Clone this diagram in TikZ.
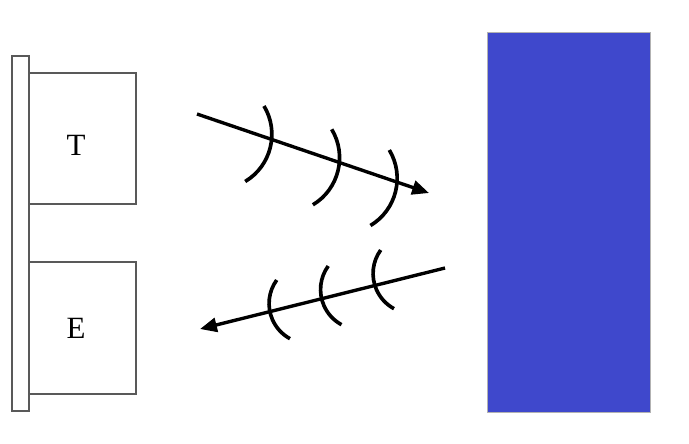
\documentclass[tikz,border=0pt]{standalone}
\usepackage{fontspec}
\setmainfont{Liberation Serif}
\usepackage{tikz}
\usetikzlibrary{arrows.meta, positioning}

\definecolor{targetblue}{RGB}{63,72,204}

\begin{document}
\begin{tikzpicture}[x=0.025cm, y=-0.025cm,
    box/.style={draw=black!65, line width=1.1pt, fill=white, inner sep=0pt, outer sep=0pt,
        minimum width=2.675cm},
    tag/.style={font=\fontsize{22}{26}\selectfont, inner sep=0pt},
    wave/.style={line width=2.6pt, black},
    ray/.style={line width=2.4pt, black, -{Triangle[length=12pt, width=10pt]}}]
    \useasboundingbox (0,0) rectangle (689,443);

    \node[draw=black!65, line width=1.1pt, inner sep=0pt, outer sep=0pt, minimum width=0.425cm, minimum height=8.875cm] (bar) at (20.5,233.5) {};
    \node[box, minimum height=3.275cm, label={[tag, xshift=-0.16cm, yshift=-0.17cm]center:T}] (sender) at (82.5,138.5) {};
    \node[box, minimum height=3.3cm, label={[tag, xshift=-0.16cm]center:E}] (receiver) at (82.5,328) {};
    \node[fill=targetblue, draw=black!30, line width=0.4pt, inner sep=0pt, minimum width=4.075cm, minimum height=9.5cm] (target) at (568.5,222) {};

    % outgoing wave
    \coordinate (out start) at (197,114);
    \coordinate (out end) at (429,193);
    \draw[ray] (out start) -- (out end);
    \foreach \dx/\dy in {0/0, 67.7/23.3, 125.3/44}
        \draw[wave] (264+\dx,106+\dy) arc[start angle=31, end angle=-59, radius=1.375cm];

    % echo
    \coordinate (echo start) at (445,268);
    \coordinate (echo end) at (200,329);
    \draw[ray] (echo start) -- (echo end);
    \foreach \dx/\dy in {0/0, 51.5/-14, 104/-30}
        \draw[wave] (276.7+\dx,280+\dy) arc[start angle=144, end angle=241.5, radius=1cm];
\end{tikzpicture}
\end{document}
